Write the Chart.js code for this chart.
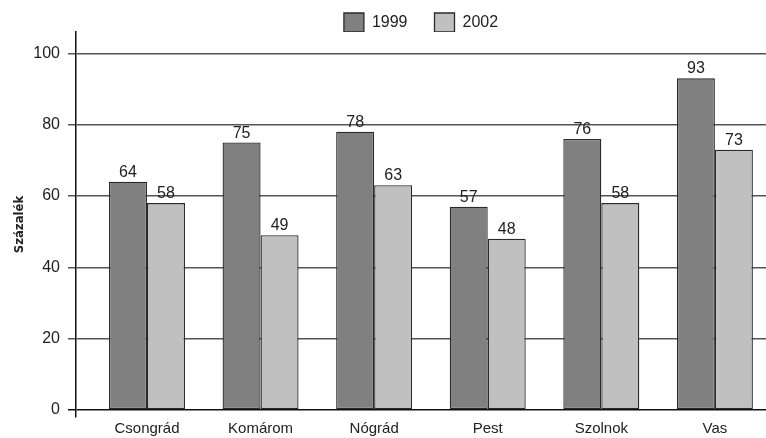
<!DOCTYPE html>
<html>
<head>
<meta charset="utf-8">
<script src="https://cdn.jsdelivr.net/npm/chart.js@4/dist/chart.umd.min.js"></script>
<style>
  html, body { margin: 0; padding: 0; background: #fff; overflow: hidden; }
  #wrap { width: 766px; height: 438px; }
</style>
</head>
<body>
<div id="wrap"><canvas id="c" width="766" height="438"></canvas></div>
<script>
// Share (%) by county, two survey years
const regions = ['Csongrád', 'Komárom', 'Nógrád', 'Pest', 'Szolnok', 'Vas'];
const years = ['1999', '2002'];
const share1999 = [64, 75, 78, 57, 76, 93];
const share2002 = [58, 49, 63, 48, 58, 73];
const yTicks = [0, 20, 40, 60, 80, 100];
const yTitle = 'Százalék';

const FONT = "'Liberation Sans', Arial, sans-serif";
const NARROW = "'Liberation Sans Narrow', 'DejaVu Sans Condensed', Arial, sans-serif";
const TEXT = '#222';

const toPoints = vals => vals.map((v, i) => ({ x: i, y: v }));

// Writes each bar's value just above it
const valueLabels = {
  id: 'valueLabels',
  afterDatasetsDraw(chart) {
    const ctx = chart.ctx;
    ctx.save();
    ctx.font = '16px ' + FONT;
    ctx.fillStyle = TEXT;
    ctx.textAlign = 'center';
    ctx.textBaseline = 'alphabetic';
    chart.data.datasets.forEach((ds, di) => {
      chart.getDatasetMeta(di).data.forEach((bar, i) => {
        ctx.fillText(String(ds.data[i].y), bar.x, bar.y - 5);
      });
    });
    ctx.restore();
  }
};

new Chart(document.getElementById('c'), {
  type: 'bar',
  data: {
    datasets: [
      {
        label: years[0],
        data: toPoints(share1999),
        backgroundColor: '#808080',
        borderColor: '#2a2a2a',
        borderWidth: 1.3,
        borderSkipped: false
      },
      {
        label: years[1],
        data: toPoints(share2002),
        backgroundColor: '#c0c0c0',
        borderColor: '#2a2a2a',
        borderWidth: 1.3,
        borderSkipped: false
      }
    ]
  },
  options: {
    responsive: false,
    animation: false,
    categoryPercentage: 0.669,
    barPercentage: 1,
    layout: { padding: { top: -14, left: 0, right: 0, bottom: 0 } },
    plugins: {
      legend: {
        position: 'top',
        align: 'center',
        fullSize: false,
        maxHeight: 46,
        labels: {
          boxWidth: 20,
          boxHeight: 19,
          padding: 27,
          color: TEXT,
          font: { family: FONT, size: 16 }
        }
      },
      tooltip: { enabled: false }
    },
    scales: {
      x: {
        type: 'linear',
        min: -0.625,
        max: 5.45,
        offset: false,
        grid: { display: false, drawTicks: false, offset: false },
        border: { display: false },
        ticks: {
          stepSize: 1,
          includeBounds: false,
          padding: 3,
          color: TEXT,
          font: { family: FONT, size: 15 },
          callback: v => regions[v] ?? ''
        },
        afterBuildTicks: s => { s.ticks = regions.map((_, i) => ({ value: i })); },
        afterFit: s => { s.height = 21; }
      },
      y: {
        min: -2,
        max: 106,
        grid: {
          color: c => (c.tick && c.tick.value === 0 ? '#111' : '#555'),
          lineWidth: 1.5,
          tickLength: 8
        },
        border: { display: true, color: '#111', width: 1.5 },
        ticks: {
          includeBounds: false,
          padding: 8,
          color: TEXT,
          font: { family: FONT, size: 16 }
        },
        afterBuildTicks: s => { s.ticks = yTicks.map(v => ({ value: v })); },
        afterFit: s => { s.width = 76; },
        title: {
          display: true,
          text: yTitle,
          color: TEXT,
          padding: { top: 12, bottom: 0 },
          font: { family: NARROW, size: 13, weight: 'bold' }
        }
      }
    }
  },
  plugins: [valueLabels]
});
</script>
</body>
</html>
